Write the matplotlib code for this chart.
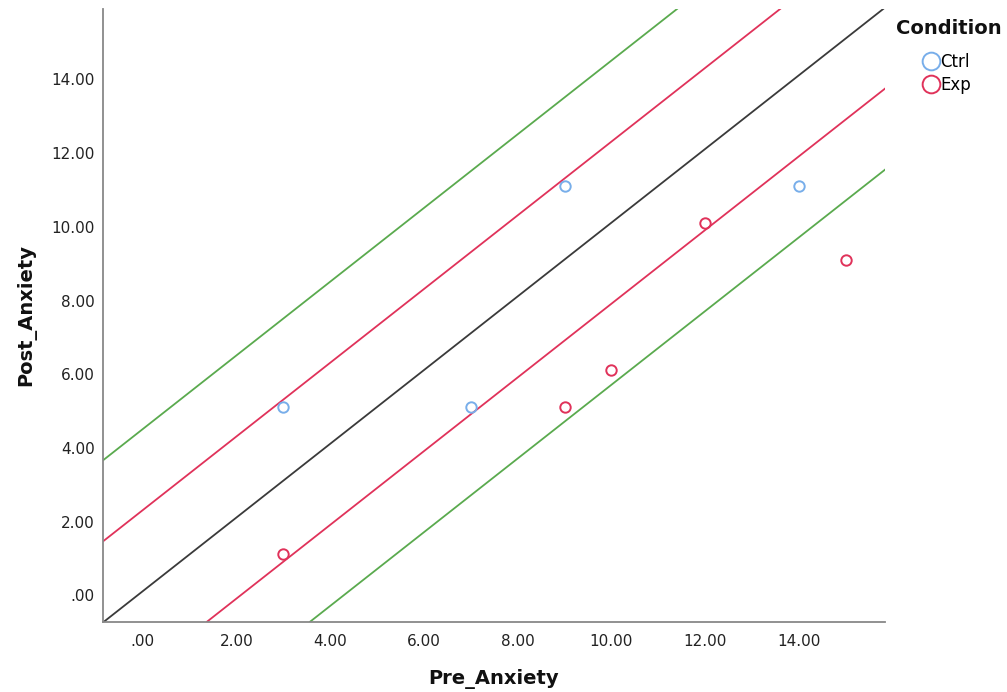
import numpy as np
import matplotlib
matplotlib.use('Agg')
import matplotlib.pyplot as plt
import matplotlib.transforms as mtransforms
from matplotlib.ticker import FuncFormatter, MultipleLocator

# data
ctrlPre = [3, 7, 9, 14]
ctrlPost = [5, 5, 11, 11]
expPre = [3, 9, 10, 12, 15]
expPost = [1, 5, 6, 10, 9]

# reference lines y = x + offset
lineOffsets = [0, 2.2, -2.2, 4.4, -4.4]
lineColors = ['#3a3a3a', '#e0325a', '#e0325a', '#5aaa4e', '#5aaa4e']

blue = '#78aeea'
red = '#e0325a'


def fmt(v, pos):
    s = '%.2f' % v
    if s.startswith('0'):
        s = s[1:]
    return s


fig = plt.figure(figsize=(10.07, 6.92), dpi=100)
ax = fig.add_axes([0.1023, 0.1016, 0.7766, 0.8854])

for off, col in zip(lineOffsets, lineColors):
    ax.axline((0, off), slope=1, color=col, lw=1.3, zorder=1)

ax.plot(ctrlPre, ctrlPost, 'o', mfc='none', mec=blue, mew=1.4, ms=7.5, label='Ctrl', zorder=3)
ax.plot(expPre, expPost, 'o', mfc='none', mec=red, mew=1.4, ms=7.5, label='Exp', zorder=3)

ax.set_xlim(-0.85, 15.84)
ax.set_ylim(-0.83, 15.80)
ax.xaxis.set_major_locator(MultipleLocator(2))
ax.yaxis.set_major_locator(MultipleLocator(2))
ax.xaxis.set_major_formatter(FuncFormatter(fmt))
ax.yaxis.set_major_formatter(FuncFormatter(fmt))
ax.tick_params(axis='both', length=0, labelsize=11, colors='#222222')
ax.tick_params(axis='x', pad=9)
ax.tick_params(axis='y', pad=6)

# SPSS puts the y labels a touch below the gridline position
shift = mtransforms.ScaledTranslation(0, -3 / 72, fig.dpi_scale_trans)
for lab in ax.get_yticklabels():
    lab.set_transform(lab.get_transform() + shift)

for s in ['top', 'right']:
    ax.spines[s].set_visible(False)
for s in ['left', 'bottom']:
    ax.spines[s].set_color('#888888')
    ax.spines[s].set_linewidth(1.3)

ax.set_xlabel('Pre_Anxiety', fontsize=14, fontweight='bold', labelpad=14, color='#111111')
ax.set_ylabel('Post_Anxiety', fontsize=14, fontweight='bold', labelpad=11, color='#111111')

fig.text(896 / 1007, 1 - 29 / 692, 'Condition', fontsize=14, fontweight='bold',
         ha='left', va='center', color='#111111')
leg = ax.legend(loc='upper left', bbox_to_anchor=(1.038, 0.9415), frameon=False,
                fontsize=12, markerscale=1.7, handlelength=0.9, handletextpad=0.15,
                labelspacing=0.28, borderpad=0.0)

plt.savefig('out.png', dpi=100)
